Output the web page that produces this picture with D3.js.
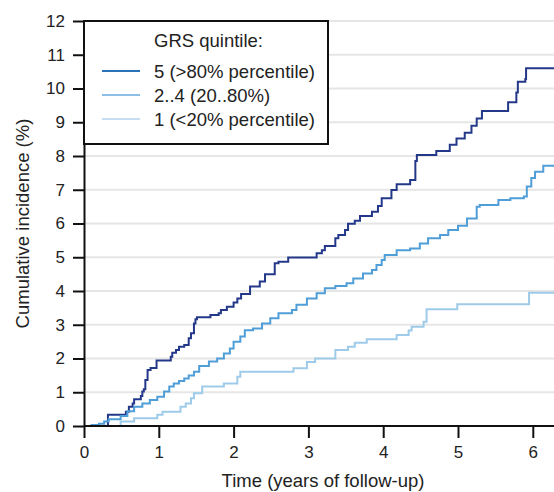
<!DOCTYPE html>
<html>
<head>
<meta charset="utf-8">
<script src="https://cdn.jsdelivr.net/npm/d3@7"></script>
<style>
  body { margin: 0; background: #fff; }
  svg text { font-family: "Liberation Sans", Arial, sans-serif; fill: #222; }
</style>
</head>
<body>
<div id="chart"></div>
<script>
// step data: follow-up time (years) and cumulative incidence (%)
const grs5Time = [0, 0.32, 0.56, 0.60, 0.65, 0.67, 0.76, 0.78, 0.80, 0.82, 0.85, 0.89, 0.97, 1.16, 1.18, 1.23, 1.27, 1.34, 1.40, 1.43, 1.47, 1.49, 1.51, 1.69, 1.80, 1.83, 1.91, 2.00, 2.05, 2.10, 2.22, 2.35, 2.42, 2.55, 2.60, 2.73, 3.11, 3.18, 3.22, 3.36, 3.40, 3.49, 3.53, 3.62, 3.69, 3.85, 3.93, 3.98, 4.11, 4.18, 4.36, 4.43, 4.45, 4.71, 4.89, 4.98, 5.09, 5.18, 5.25, 5.32, 5.67, 5.78, 5.80, 5.90, 5.91, 6.30]
const grs5Cum = [0, 0.33, 0.42, 0.57, 0.67, 0.79, 0.89, 1.02, 1.09, 1.36, 1.66, 1.72, 1.94, 2.05, 2.17, 2.25, 2.35, 2.40, 2.60, 2.75, 3.04, 3.16, 3.22, 3.29, 3.34, 3.44, 3.53, 3.66, 3.78, 3.91, 4.13, 4.28, 4.50, 4.82, 4.87, 4.99, 5.12, 5.21, 5.33, 5.56, 5.66, 5.81, 5.99, 6.08, 6.22, 6.35, 6.52, 6.75, 6.99, 7.16, 7.29, 7.85, 8.03, 8.15, 8.33, 8.52, 8.69, 8.90, 9.11, 9.33, 9.59, 9.88, 10.20, 10.28, 10.60, 10.60]

const grs24Time = [0, 0.10, 0.20, 0.27, 0.33, 0.49, 0.58, 0.67, 0.78, 0.88, 0.98, 1.07, 1.14, 1.20, 1.27, 1.34, 1.40, 1.47, 1.54, 1.67, 1.78, 1.87, 1.95, 2.00, 2.09, 2.15, 2.26, 2.38, 2.49, 2.60, 2.78, 2.84, 2.98, 3.11, 3.22, 3.36, 3.51, 3.60, 3.73, 3.85, 3.91, 3.98, 4.02, 4.18, 4.36, 4.49, 4.60, 4.76, 4.87, 5.00, 5.12, 5.25, 5.29, 5.54, 5.70, 5.88, 5.92, 5.98, 6.03, 6.14, 6.30]
const grs24Cum = [0, 0.03, 0.07, 0.13, 0.20, 0.30, 0.44, 0.57, 0.67, 0.77, 0.87, 1.02, 1.17, 1.26, 1.33, 1.41, 1.50, 1.61, 1.78, 1.91, 2.00, 2.15, 2.30, 2.50, 2.65, 2.84, 2.89, 3.04, 3.19, 3.34, 3.44, 3.59, 3.78, 3.93, 4.08, 4.15, 4.23, 4.37, 4.52, 4.62, 4.77, 4.92, 5.07, 5.21, 5.26, 5.41, 5.56, 5.66, 5.81, 5.93, 6.15, 6.50, 6.55, 6.70, 6.75, 6.80, 7.10, 7.35, 7.53, 7.71, 7.71]

const grs1Time = [0, 0.49, 0.67, 0.98, 1.05, 1.29, 1.36, 1.43, 1.47, 1.58, 1.87, 2.05, 2.09, 2.80, 2.98, 3.09, 3.36, 3.53, 3.62, 3.78, 4.18, 4.34, 4.38, 4.54, 4.58, 4.99, 5.95, 6.30]
const grs1Cum = [0, 0.13, 0.23, 0.33, 0.42, 0.57, 0.67, 0.82, 0.97, 1.17, 1.26, 1.46, 1.61, 1.71, 1.90, 2.00, 2.25, 2.35, 2.47, 2.57, 2.70, 2.83, 2.94, 3.09, 3.46, 3.61, 3.95, 3.95]

const groupLabels = ["5 (>80% percentile)", "2..4 (20..80%)", "1 (<20% percentile)"]
const lineColors = ["#24388a", "#4f9ed8", "#9fcbea"]
const legendColors = ["#2c72b8", "#8cbfe6", "#c6ddf2"]
const yTicks = [0, 1, 2, 3, 4, 5, 6, 7, 8, 9, 10, 11, 12]
const xTicks = [0, 1, 2, 3, 4, 5, 6]

const width = 554, height = 492
const plotLeft = 84, plotTop = 21, plotBottom = 426

const svg = d3.select("#chart").append("svg")
    .attr("width", width)
    .attr("height", height)

const x = d3.scaleLinear().domain([0, 6]).range([plotLeft, 532.8])
const y = d3.scaleLinear().domain([0, 12]).range([plotBottom, plotTop])

// grid
svg.append("g").selectAll("line")
    .data(yTicks.slice(1))
    .enter().append("line")
    .attr("x1", plotLeft).attr("x2", width)
    .attr("y1", d => y(d)).attr("y2", d => y(d))
    .attr("stroke", "#e6e6e6")
    .attr("stroke-width", 2)

// curves, drawn dark first
const series = [
    { time: grs5Time, cum: grs5Cum },
    { time: grs24Time, cum: grs24Cum },
    { time: grs1Time, cum: grs1Cum }
]
const line = d3.line()
    .x(d => x(d[0]))
    .y(d => y(d[1]))
    .curve(d3.curveStepAfter)

series.forEach((s, i) => {
    svg.append("path")
        .datum(d3.zip(s.time, s.cum))
        .attr("fill", "none")
        .attr("stroke", lineColors[i])
        .attr("stroke-width", 2)
        .attr("d", line)
})

// axes
const yAxis = svg.append("g")
    .attr("transform", `translate(${plotLeft},0)`)
    .call(d3.axisLeft(y).tickValues(yTicks).tickFormat(d3.format("d")).tickSize(11).tickPadding(8).tickSizeOuter(0))
const xAxis = svg.append("g")
    .attr("transform", `translate(0,${plotBottom})`)
    .call(d3.axisBottom(x).tickValues(xTicks).tickFormat(d3.format("d")).tickSize(12).tickPadding(8).tickSizeOuter(0))
xAxis.select(".domain").attr("d", `M${plotLeft},0H${width}`)
;[yAxis, xAxis].forEach(a => {
    a.select(".domain").attr("stroke", "#111").attr("stroke-width", 2)
    a.selectAll(".tick line").attr("stroke", "#111").attr("stroke-width", 2)
    a.selectAll(".tick text").style("font-size", "17px").attr("fill", "#222")
})

svg.append("text")
    .attr("x", 323).attr("y", 487)
    .attr("text-anchor", "middle")
    .style("font-size", "18.5px")
    .text("Time (years of follow-up)")

svg.append("text")
    .attr("transform", `translate(29,${(plotTop + plotBottom) / 2}) rotate(-90)`)
    .attr("text-anchor", "middle")
    .style("font-size", "18.5px")
    .text("Cumulative incidence (%)")

// legend box
const legend = svg.append("g")
legend.append("rect")
    .attr("x", plotLeft).attr("y", plotTop)
    .attr("width", 244).attr("height", 123)
    .attr("fill", "#fff")
    .attr("stroke", "#111")
    .attr("stroke-width", 2)
legend.append("text")
    .attr("x", 154).attr("y", 47)
    .style("font-size", "18.5px")
    .text("GRS quintile:")
groupLabels.forEach((lab, i) => {
    const ly = 71 + i * 24
    legend.append("line")
        .attr("x1", 102).attr("x2", 140)
        .attr("y1", ly).attr("y2", ly)
        .attr("stroke", legendColors[i])
        .attr("stroke-width", 2)
    legend.append("text")
        .attr("x", 154).attr("y", ly + 7)
        .style("font-size", "18.5px")
        .text(lab)
})
</script>
</body>
</html>
